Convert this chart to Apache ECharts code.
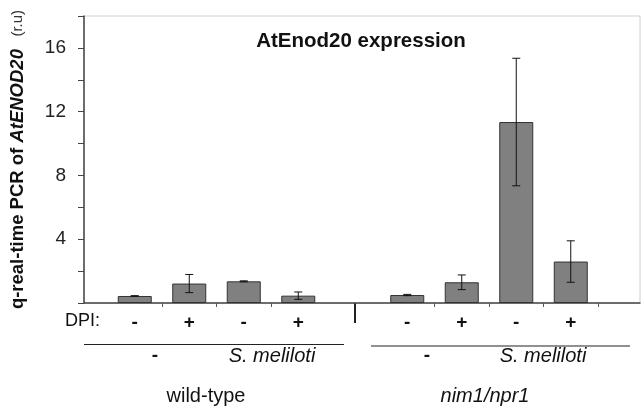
<!DOCTYPE html>
<html><head><meta charset="utf-8">
<script src="https://cdn.jsdelivr.net/npm/echarts@6/dist/echarts.min.js"></script>
<style>html,body{margin:0;padding:0;background:#fff}#c{width:642px;height:408px}</style>
</head><body><div id="c"></div>
<script>
const dpiLabels = ['-', '+', '-', '+', '', '-', '+', '-', '+'];
const meanValues = [0.44, 1.22, 1.36, 0.46, null, 0.5, 1.3, 11.35, 2.6];
const errorValues = [0.02, 0.57, 0.03, 0.23, null, 0.04, 0.46, 4.0, 1.3];
const yTickLabels = [4, 8, 12, 16];
const treatmentLabels = ['-', 'S. meliloti', '-', 'S. meliloti'];
const genotypeLabels = ['wild-type', 'nim1/npr1'];
const chartTitle = 'AtEnod20 expression';

const FONT = '"Liberation Sans", Arial, sans-serif';
const TXT = '#111';
const chart = echarts.init(document.getElementById('c'), null, {renderer: 'canvas'});

const errData = [];
meanValues.forEach((m, i) => {
  if (m != null) errData.push([i, m - errorValues[i], m + errorValues[i]]);
});

const option = {
  backgroundColor: '#fff',
  animation: false,
  title: {
    text: chartTitle, left: 356, top: 26, textAlign: 'center',
    textStyle: {fontFamily: FONT, fontSize: 20.5, fontWeight: 'bold', color: TXT}
  },
  grid: [
    {left: 81, right: 2, top: 16, bottom: 105, show: true, borderColor: '#d0d0d0', borderWidth: 1, backgroundColor: 'transparent'},
    {left: 107.5, right: 44, top: 16, bottom: 105}
  ],
  xAxis: [
    {type: 'category', gridIndex: 0, data: [''], axisLine: {show: true, lineStyle: {color: '#444', width: 1.5}},
     axisTick: {show: false}, axisLabel: {show: false}, splitLine: {show: false}},
    {type: 'category', gridIndex: 1, data: dpiLabels, axisLine: {show: false},
     axisTick: {show: true, length: 4, interval: (i) => [1, 2, 3, 6, 7, 8].includes(i), lineStyle: {color: '#555'}},
     axisLabel: {margin: 10, fontFamily: FONT, fontSize: 19, fontWeight: 'bold', color: TXT, interval: 0}}
  ],
  yAxis: [
    {type: 'value', gridIndex: 0, min: 0, max: 18, interval: 2,
     axisLine: {show: true, lineStyle: {color: '#444', width: 1.5}},
     axisTick: {show: true, length: 6, lineStyle: {color: '#444'}},
     splitLine: {show: false},
     axisLabel: {margin: 18, fontFamily: FONT, fontSize: 19, color: '#222',
       formatter: (v) => yTickLabels.includes(v) ? String(v) : ''},
     name: '{b|q-real-time PCR of }{bi|AtENOD20}{n|   (r.u)}',
     nameLocation: 'middle', nameGap: 57, nameRotate: 90,
     nameTextStyle: {rich: {
       b: {fontFamily: FONT, fontSize: 18.5, fontWeight: 'bold', color: TXT},
       bi: {fontFamily: FONT, fontSize: 18.5, fontWeight: 'bold', fontStyle: 'italic', color: TXT},
       n: {fontFamily: FONT, fontSize: 15, color: '#333'}
     }}},
    {type: 'value', gridIndex: 1, min: 0, max: 18, interval: 2, show: false}
  ],
  series: [
    {type: 'bar', xAxisIndex: 1, yAxisIndex: 1, data: meanValues, barWidth: 34,
     itemStyle: {color: '#808080', borderColor: '#333', borderWidth: 1}},
    {type: 'custom', xAxisIndex: 1, yAxisIndex: 1, data: errData, z: 10,
     encode: {x: 0, y: [1, 2]},
     renderItem: (params, api) => {
       const x = api.value(0);
       const lo = api.coord([x, api.value(1)]);
       const hi = api.coord([x, api.value(2)]);
       const hw = 4;
       const st = {stroke: '#111', lineWidth: 1};
       return {type: 'group', children: [
         {type: 'line', shape: {x1: lo[0], y1: lo[1], x2: hi[0], y2: hi[1]}, style: st},
         {type: 'line', shape: {x1: hi[0] - hw, y1: hi[1], x2: hi[0] + hw, y2: hi[1]}, style: st},
         {type: 'line', shape: {x1: lo[0] - hw, y1: lo[1], x2: lo[0] + hw, y2: lo[1]}, style: st}
       ]};
     }}
  ],
  graphic: [
    {type: 'text', left: 65, top: 312, style: {text: 'DPI:', font: '18px ' + FONT, fill: TXT}},
    {type: 'line', shape: {x1: 355, y1: 303, x2: 355, y2: 323}, style: {stroke: '#222', lineWidth: 2}},
    {type: 'line', shape: {x1: 84, y1: 344.5, x2: 344, y2: 344.5}, style: {stroke: '#222', lineWidth: 1.2}},
    {type: 'line', shape: {x1: 371, y1: 346, x2: 630, y2: 346}, style: {stroke: '#222', lineWidth: 1.2}},
    {type: 'text', x: 155, y: 356, style: {text: treatmentLabels[0], font: 'bold 19px ' + FONT, fill: TXT, align: 'center', verticalAlign: 'middle'}},
    {type: 'text', x: 272, y: 356, style: {text: treatmentLabels[1], font: 'italic 20px ' + FONT, fill: TXT, align: 'center', verticalAlign: 'middle'}},
    {type: 'text', x: 427, y: 356, style: {text: treatmentLabels[2], font: 'bold 19px ' + FONT, fill: TXT, align: 'center', verticalAlign: 'middle'}},
    {type: 'text', x: 543, y: 356, style: {text: treatmentLabels[3], font: 'italic 20px ' + FONT, fill: TXT, align: 'center', verticalAlign: 'middle'}},
    {type: 'text', x: 206, y: 396, style: {text: genotypeLabels[0], font: '20px ' + FONT, fill: TXT, align: 'center', verticalAlign: 'middle'}},
    {type: 'text', x: 485, y: 396, style: {text: genotypeLabels[1], font: 'italic 20px ' + FONT, fill: TXT, align: 'center', verticalAlign: 'middle'}}
  ]
};
chart.setOption(option);
</script>
</body></html>
